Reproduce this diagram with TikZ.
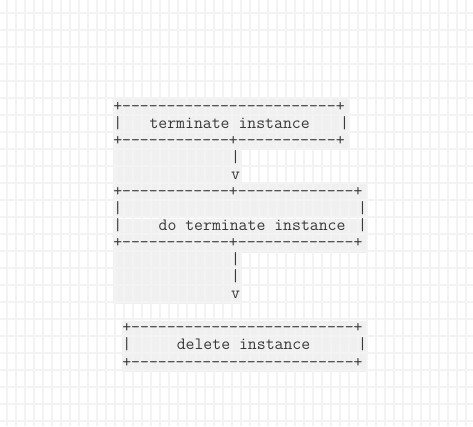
\documentclass[tikz,border=0pt]{standalone}
\usepackage{fontspec}
\usepackage{xcolor}
\usepackage{tikz}

\definecolor{gridgray}{HTML}{F3F3F3}
\definecolor{linebg}{HTML}{F0F0F0}
\definecolor{asciiink}{HTML}{383838}

\begin{document}
\begin{tikzpicture}[
  x=0.75pt, y=-0.75pt,
  gridline/.style={draw=gridgray, line width=1.2pt},
  rowfill/.style={fill=linebg},
  every node/.style={inner sep=0pt, anchor=base west, text=asciiink,
    font=\ttfamily\fontsize{12.96}{14}\selectfont}
]
  \useasboundingbox (0,0) rectangle (473,426);
  \fill[white] (0,0) rectangle (473,426);
  % line backgrounds
  \foreach \r/\a/\b in {0/0/25,1/0/25,2/0/25,3/0/13,4/0/13,5/0/27,6/0/27,7/0/27,8/0/27,
                        9/0/13,10/0/13,11/0/13,13/1/27,14/1/27,15/1/27}
    \fill[rowfill] (113+9.07*\a,99+17.07*\r) rectangle (122.07+9.07*\b,116+17.07*\r);
  % grid
  \foreach \i in {0,...,51}
    \draw[gridline] (7+9*\i,0) -- (7+9*\i,426);
  \foreach \j in {0,...,24}
    \draw[gridline] (0,13+17*\j) -- (473,13+17*\j);
  % ascii lines
  \foreach \n/\r/\c/\t in {
    term0/0/0/{+------------------------+},
    term1l/1/0/{|}, term1/1/4/{terminate instance}, term1r/1/25/{|},
    term2/2/0/{+------------+-----------+},
    arrA1/3/13/{|}, arrA2/4/13/{v},
    doterm0/5/0/{+------------+-------------+},
    doterm1l/6/0/{|}, doterm1r/6/27/{|},
    doterm2l/7/0/{|}, doterm2/7/5/{do terminate instance}, doterm2r/7/27/{|},
    doterm3/8/0/{+------------+-------------+},
    arrB1/9/13/{|}, arrB2/10/13/{|}, arrB3/11/13/{v},
    del0/13/1/{+-------------------------+},
    del1l/14/1/{|}, del1/14/7/{delete instance}, del1r/14/27/{|},
    del2/15/1/{+-------------------------+}
  }
    \node (\n) at (113+9.07*\c,111+17.07*\r) {\t};
\end{tikzpicture}
\end{document}
